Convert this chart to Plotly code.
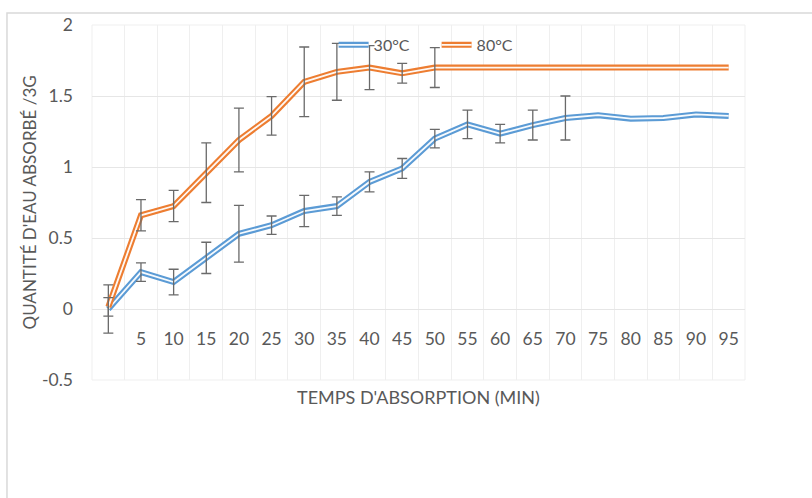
import plotly.graph_objects as go

# ---- data ----
times = [0, 5, 10, 15, 20, 25, 30, 35, 40, 45, 50, 55, 60, 65, 70, 75, 80, 85, 90, 95]
tick_labels = ["", "5", "10", "15", "20", "25", "30", "35", "40", "45", "50",
               "55", "60", "65", "70", "75", "80", "85", "90", "95"]
s30_name = "30°C"
s30 = [0.0, 0.26, 0.19, 0.36, 0.53, 0.59, 0.69, 0.725, 0.895, 0.99, 1.20,
       1.30, 1.235, 1.295, 1.345, 1.365, 1.34, 1.345, 1.37, 1.36]
s30_err = [0.17, 0.065, 0.09, 0.11, 0.2, 0.065, 0.11, 0.065, 0.07, 0.07, 0.065,
           0.10, 0.065, 0.105, 0.155, None, None, None, None, None]
s80_name = "80°C"
s80 = [0.015, 0.66, 0.725, 0.96, 1.19, 1.36, 1.60, 1.67, 1.70, 1.66, 1.70,
       1.70, 1.70, 1.70, 1.70, 1.70, 1.70, 1.70, 1.70, 1.70]
s80_err = [0.065, 0.11, 0.11, 0.21, 0.225, 0.135, 0.245, 0.2, 0.155, 0.07, 0.14,
           None, None, None, None, None, None, None, None, None]
y_ticks = [-0.5, 0, 0.5, 1, 1.5, 2]
y_tick_text = ["-0.5", "0", "0.5", "1", "1.5", "2"]
x_title = "TEMPS D'ABSORPTION (MIN)"
y_title = "QUANTITÉ D'EAU ABSORBÉ /3G"

BLUE = "#5B9BD5"
ORANGE = "#ED7D31"
TXT = "#595959"
ERR = "#6a6a6a"
FONT = "Lato"

fig = go.Figure()

def add_series(x, y, err, name, color):
    fig.add_trace(go.Scatter(x=x, y=y, mode="lines", name=name, legend="legend",
                             line=dict(color=color, width=6), showlegend=True))
    fig.add_trace(go.Scatter(x=x, y=y, mode="lines", name=" ", legend="legend2",
                             showlegend=True, hoverinfo="skip",
                             line=dict(color="rgba(255,255,255,0.95)", width=1.8)))
    idx = [i for i, e in enumerate(err) if e is not None]
    fig.add_trace(go.Scatter(x=[x[i] for i in idx], y=[y[i] for i in idx],
                             mode="markers", showlegend=False, hoverinfo="skip",
                             marker=dict(size=1, opacity=0),
                             error_y=dict(type="data", array=[err[i] for i in idx],
                                          visible=True, color=ERR, thickness=1.3, width=5)))

add_series(times, s30, s30_err, s30_name, BLUE)
add_series(times, s80, s80_err, s80_name, ORANGE)

leg_common = dict(orientation="h", x=0.37, y=0.944, xanchor="left", yanchor="middle",
                  bgcolor="rgba(0,0,0,0)", font=dict(size=16, color=TXT, family=FONT),
                  entrywidth=58, itemwidth=30, tracegroupgap=0)

fig.update_layout(
    width=812, height=498,
    margin=dict(l=92, r=67, t=25, b=118),
    paper_bgcolor="white", plot_bgcolor="white",
    font=dict(family=FONT, color=TXT, size=17.5),
    showlegend=True,
    legend=leg_common,
    legend2=leg_common,
    xaxis=dict(range=[-2.5, 97.5], tickmode="array", tickvals=times, ticktext=tick_labels,
               showgrid=False, zeroline=False, showline=False, ticks="",
               anchor="free", position=0.2, ticklabelstandoff=17,
               tickfont=dict(size=17.5, color=TXT),
               minor=dict(tickmode="linear", tick0=2.5, dtick=5, showgrid=True,
                          gridcolor="#efefef", gridwidth=1, ticks="")),
    yaxis=dict(range=[-0.5, 2], tickmode="array", tickvals=y_ticks, ticktext=y_tick_text,
               showgrid=True, gridcolor="#e6e6e6", gridwidth=1, zeroline=False,
               showline=False, ticks="", ticklabelstandoff=18,
               tickfont=dict(size=17.5, color=TXT)),
    annotations=[
        dict(text=x_title, xref="paper", yref="paper", x=0.5, y=-0.048,
             xanchor="center", yanchor="middle", showarrow=False,
             font=dict(size=18, color=TXT, family=FONT)),
        dict(text=y_title, xref="paper", yref="paper", x=-0.095, y=0.5,
             xanchor="center", yanchor="middle", textangle=-90, showarrow=False,
             font=dict(size=17, color=TXT, family=FONT)),
    ],
    shapes=[
        dict(type="rect", xref="paper", yref="paper", x0=-0.1302, x1=1.2, y0=-0.5, y1=1.0338,
             line=dict(color="#d9d9d9", width=1.5), layer="below"),
        dict(type="rect", xref="paper", yref="paper", x0=0, x1=1, y0=0, y1=1,
             line=dict(color="#efefef", width=1), layer="below"),
    ],
)

fig.write_html("out.html")
